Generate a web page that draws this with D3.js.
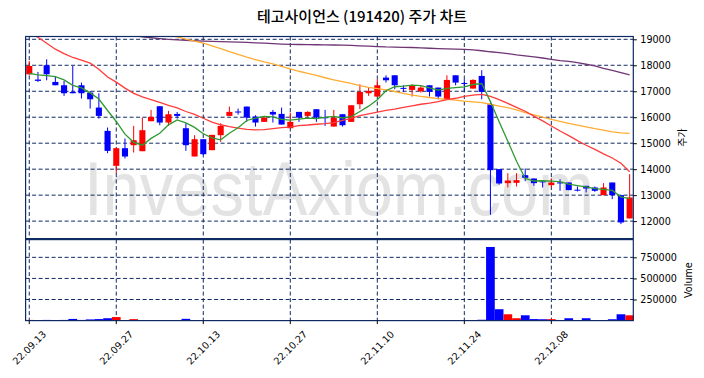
<!DOCTYPE html>
<html>
<head>
<meta charset="utf-8">
<script src="https://cdn.jsdelivr.net/npm/d3@7"></script>
<style>
body { margin: 0; background: #fff; }
</style>
</head>
<body>
<div id="wrapper"></div>
<script>
// 1. Data

const dates = ["22.09.13","22.09.14","22.09.15","22.09.16","22.09.19","22.09.20","22.09.21","22.09.22","22.09.23","22.09.26",
    "22.09.27","22.09.28","22.09.29","22.09.30","22.10.04","22.10.05","22.10.06","22.10.07","22.10.11","22.10.12",
    "22.10.13","22.10.14","22.10.17","22.10.18","22.10.19","22.10.20","22.10.21","22.10.24","22.10.25","22.10.26",
    "22.10.27","22.10.28","22.10.31","22.11.01","22.11.02","22.11.03","22.11.04","22.11.07","22.11.08","22.11.09",
    "22.11.10","22.11.11","22.11.14","22.11.15","22.11.16","22.11.17","22.11.18","22.11.21","22.11.22","22.11.23",
    "22.11.24","22.11.25","22.11.28","22.11.29","22.11.30","22.12.01","22.12.02","22.12.05","22.12.06","22.12.07",
    "22.12.08","22.12.09","22.12.12","22.12.13","22.12.14","22.12.15","22.12.16","22.12.19","22.12.20","22.12.21"]

const opens = [17654,17450,18000,17359,17231,16974,17231,16949,16372,15475,
    14128,14808,14923,14692,15846,16423,15795,16128,15577,14488,
    15154,14731,15308,16051,16220,16410,16026,15821,16205,16128,
    15577,16205,16051,16308,16000,15641,16115,15821,16500,16923,
    16795,17526,17615,17130,17051,17000,17231,17141,16692,17615,
    17320,17103,17590,16500,14000,13462,13475,13769,13641,13530,
    13385,13490,13487,13210,13359,13295,13000,13487,13000,12103]
const highs = [18167,17744,18231,17590,17397,17974,17333,17013,16923,15603,
    14830,15180,15667,15987,16282,16423,16244,16205,15769,15308,
    15154,15321,15769,16410,16333,16410,16077,16051,16282,16372,
    16180,16205,16230,16308,16282,16282,16115,16462,17269,17141,
    17462,17615,17615,17230,17269,17231,17231,17141,17615,17615,
    17460,17462,17808,16564,14000,13846,13846,14026,13641,13551,
    13641,13615,13487,13333,13359,13333,13462,13487,13000,13808]
const lows = [17620,17359,17423,17231,16820,16923,16718,16334,15949,14616,
    13846,14411,14641,14692,15846,15692,15667,15949,14705,14488,
    14540,14731,15051,16051,16100,15821,15641,15821,15795,15718,
    15577,15821,16000,15821,15667,15641,15641,15821,16308,16820,
    16795,17334,17077,16975,16795,16949,16795,16692,16692,17230,
    17013,17103,16692,12244,13398,13295,13333,13539,13359,13295,
    13295,13167,13193,13141,13103,13128,13000,12846,11885,12103]
const closes = [17974,17400,17654,17231,16923,16923,16923,16692,16051,14705,
    14808,14488,15116,15500,16013,15795,16115,16051,14923,15154,
    14577,15321,15667,16205,16190,15987,15795,15987,16103,15718,
    15821,15987,16205,15987,15980,15987,15692,16462,16974,17013,
    17231,17423,17231,17100,17205,17141,16974,16795,17436,17334,
    17300,17436,16974,13962,13449,13564,13577,13667,13462,13500,
    13487,13470,13193,13190,13257,13167,13295,13000,11949,12910]
const volumes = [8000,6000,8000,6000,8000,20000,8000,14000,18000,28000,
    42000,5000,17000,7000,7000,5000,7000,5000,21000,7000,
    5000,6000,5000,6000,5000,6000,5000,6000,5000,6000,
    7000,5000,6000,5000,5000,7000,5000,6000,7000,6000,
    6000,5000,4000,5000,6000,6000,5000,5000,7000,5000,
    5000,6000,10000,873000,135000,75000,28000,63000,18000,16000,
    17000,5000,28000,5000,28000,5000,6000,16000,75000,63000]

const ma5 = [17690,17630,17600,17560,17436,17226,17131,16938,16702,16259,
    15836,15349,15034,14923,15185,15382,15708,15895,15779,15608,
    15364,15205,15128,15385,15592,15874,15969,16033,16012,15918,
    15885,15923,15967,15944,15996,16029,15970,16022,16219,16426,
    16674,17021,17174,17200,17238,17220,17130,17043,17110,17136,
    17168,17260,17296,16601,15824,15077,14305,13644,13544,13554,
    13539,13517,13422,13368,13319,13255,13220,13182,12934,12864]
const ma20 = [19200,19080,18850,18620,18450,18300,18200,18080,17850,17550,
    17350,17120,16920,16780,16680,16570,16460,16360,16220,16110,
    15960,15810,15710,15640,15580,15530,15510,15520,15560,15600,
    15620,15680,15700,15730,15750,15790,15880,15960,16060,16130,
    16200,16260,16310,16380,16440,16500,16540,16600,16680,16730,
    16800,16850,16880,16800,16680,16530,16380,16230,16040,15860,
    15660,15470,15290,15100,14920,14760,14590,14430,14230,13900]
const ma60 = [null,null,null,null,null,null,null,null,null,null,
    null,null,null,null,null,null,19170,19090,19010,18930,
    18850,18750,18640,18530,18420,18310,18220,18130,18050,17960,
    17860,17770,17690,17610,17520,17440,17370,17300,17220,17150,
    17100,17050,16990,16920,16850,16800,16760,16720,16690,16660,
    16620,16590,16560,16500,16430,16370,16280,16180,16090,16000,
    15920,15840,15760,15700,15630,15560,15500,15440,15400,15380]
const ma120 = [null,null,null,null,null,null,null,null,null,null,
    null,null,19140,19090,19060,19030,19000,18980,18960,18945,
    18930,18920,18910,18900,18890,18880,18865,18850,18830,18815,
    18805,18800,18795,18790,18785,18780,18775,18770,18750,18735,
    18720,18705,18700,18690,18685,18670,18655,18645,18630,18620,
    18610,18590,18560,18520,18490,18450,18400,18360,18320,18280,
    18230,18180,18150,18100,18040,17980,17880,17800,17720,17630]

const priceTicks = [12000, 13000, 14000, 15000, 16000, 17000, 18000, 19000]
const volumeTicks = [250000, 500000, 750000]
const dateTickIdx = [0, 10, 20, 30, 40, 50, 60]

// 2. Dimensions

const dimensions = {
    width: 704,
    height: 378,
    left: 25.6,
    right: 633.3,
    priceTop: 36.5,
    priceBottom: 238.6,
    volTop: 239.6,
    volBottom: 320.6,
}

const navy = "#0f2a63"
const upColor = "#ff0000"
const downColor = "#0000ff"

// 3. Draw canvas

const wrapper = d3.select("#wrapper")
    .append("svg")
    .attr("width", dimensions.width)
    .attr("height", dimensions.height)
    .style("font-family", "'DejaVu Sans', sans-serif")

const x = d3.scaleLinear()
    .domain([-0.42, dates.length - 1 + 0.42])
    .range([dimensions.left, dimensions.right])
const yPrice = d3.scaleLinear()
    .domain([11327, 19108])
    .range([dimensions.priceBottom, dimensions.priceTop])
const yVol = d3.scaleLinear()
    .domain([0, d3.max(volumes) * 1.1])
    .range([dimensions.volBottom, dimensions.volTop])

const step = x(1) - x(0)

wrapper.append("defs").append("clipPath")
    .attr("id", "priceClip")
    .append("rect")
    .attr("x", dimensions.left)
    .attr("y", dimensions.priceTop)
    .attr("width", dimensions.right - dimensions.left)
    .attr("height", dimensions.priceBottom - dimensions.priceTop)

// title
wrapper.append("text")
    .attr("x", 362)
    .attr("y", 22)
    .attr("text-anchor", "middle")
    .attr("font-family", "'Noto Sans CJK KR', sans-serif")
    .attr("font-size", "15px")
    .attr("font-weight", 500)
    .attr("fill", "#000")
    .text("테고사이언스 (191420) 주가 차트")

// watermark
wrapper.append("text")
    .attr("transform", "translate(84,215) scale(1,1.14)")
    .attr("font-family", "'Liberation Sans', Arial, sans-serif")
    .attr("font-size", "67px")
    .attr("fill", "#e3e3e3")
    .text("InvestAxiom.com")

// grid
const grid = wrapper.append("g")
    .attr("stroke", navy)
    .attr("stroke-width", 1)
    .attr("stroke-dasharray", "4,2.5")

grid.selectAll(".hp")
    .data(priceTicks)
    .join("line")
    .attr("x1", dimensions.left)
    .attr("x2", dimensions.right)
    .attr("y1", d => yPrice(d))
    .attr("y2", d => yPrice(d))

grid.selectAll(".hv")
    .data(volumeTicks)
    .join("line")
    .attr("class", "hv")
    .attr("x1", dimensions.left)
    .attr("x2", dimensions.right)
    .attr("y1", d => yVol(d))
    .attr("y2", d => yVol(d))

grid.selectAll(".vp")
    .data(dateTickIdx)
    .join("line")
    .attr("class", "vp")
    .attr("x1", d => x(d))
    .attr("x2", d => x(d))
    .attr("y1", dimensions.priceTop)
    .attr("y2", dimensions.priceBottom)

grid.selectAll(".vv")
    .data(dateTickIdx)
    .join("line")
    .attr("class", "vv")
    .attr("x1", d => x(d))
    .attr("x2", d => x(d))
    .attr("y1", dimensions.volTop)
    .attr("y2", dimensions.volBottom)

// candles
const candles = wrapper.append("g")
    .selectAll("g")
    .data(dates.map((d, i) => i))
    .join("g")
    .attr("fill", i => closes[i] >= opens[i] ? upColor : downColor)
    .attr("stroke", i => closes[i] >= opens[i] ? upColor : downColor)

candles.append("line")
    .attr("x1", i => x(i))
    .attr("x2", i => x(i))
    .attr("y1", i => yPrice(highs[i]))
    .attr("y2", i => yPrice(lows[i]))
    .attr("stroke-width", 1)

candles.append("rect")
    .attr("x", i => x(i) - step * 0.35)
    .attr("width", step * 0.7)
    .attr("y", i => yPrice(Math.max(opens[i], closes[i])))
    .attr("height", i => Math.max(1, Math.abs(yPrice(opens[i]) - yPrice(closes[i]))))
    .attr("stroke", "none")

// moving averages
const line = d3.line()
    .defined(d => d != null)
    .x((d, i) => x(i))
    .y(d => yPrice(d))

const maLayer = wrapper.append("g").attr("clip-path", "url(#priceClip)")
const maSeries = [
    { values: ma120, color: "#6f3575" },
    { values: ma60, color: "#ffac33" },
    { values: ma20, color: "#ff3b3b" },
    { values: ma5, color: "#2f9a2f" },
]
maLayer.selectAll("path")
    .data(maSeries)
    .join("path")
    .attr("d", d => line(d.values))
    .attr("fill", "none")
    .attr("stroke", d => d.color)
    .attr("stroke-width", 1.3)

// volume bars
wrapper.append("g")
    .selectAll("rect")
    .data(volumes)
    .join("rect")
    .attr("x", (d, i) => x(i) - step / 2)
    .attr("width", step)
    .attr("y", d => yVol(d))
    .attr("height", d => yVol(0) - yVol(d))
    .attr("fill", (d, i) => closes[i] >= opens[i] ? upColor : downColor)

// frames
wrapper.append("rect")
    .attr("x", dimensions.left)
    .attr("y", dimensions.priceTop)
    .attr("width", dimensions.right - dimensions.left)
    .attr("height", dimensions.priceBottom - dimensions.priceTop)
    .attr("fill", "none")
    .attr("stroke", navy)
    .attr("stroke-width", 1.2)
wrapper.append("rect")
    .attr("x", dimensions.left)
    .attr("y", dimensions.volTop)
    .attr("width", dimensions.right - dimensions.left)
    .attr("height", dimensions.volBottom - dimensions.volTop)
    .attr("fill", "none")
    .attr("stroke", navy)
    .attr("stroke-width", 1.2)

// right axes
const priceAxis = d3.axisRight(yPrice).tickValues(priceTicks).tickSize(3.5).tickPadding(3.5).tickFormat(d3.format("d"))
const volAxis = d3.axisRight(yVol).tickValues(volumeTicks).tickSize(3.5).tickPadding(3.5).tickFormat(d3.format("d"))

const styleAxis = g => {
    g.select(".domain").remove()
    g.selectAll(".tick line").attr("stroke", "#000")
    g.selectAll(".tick text")
        .attr("fill", "#000")
        .attr("font-size", "9.6px")
        .attr("font-family", "'DejaVu Sans', sans-serif")
}

wrapper.append("g")
    .attr("transform", `translate(${dimensions.right},0)`)
    .call(priceAxis)
    .call(styleAxis)
wrapper.append("g")
    .attr("transform", `translate(${dimensions.right},0)`)
    .call(volAxis)
    .call(styleAxis)

// bottom ticks + rotated date labels
const xTicks = wrapper.append("g")
xTicks.selectAll("line")
    .data(dateTickIdx)
    .join("line")
    .attr("x1", d => x(d))
    .attr("x2", d => x(d))
    .attr("y1", dimensions.volBottom)
    .attr("y2", dimensions.volBottom + 3.5)
    .attr("stroke", "#000")
xTicks.selectAll("text")
    .data(dateTickIdx)
    .join("text")
    .attr("transform", d => `translate(${x(d)},${dimensions.volBottom + 27}) rotate(-45)`)
    .attr("text-anchor", "middle")
    .attr("dominant-baseline", "central")
    .attr("font-size", "9.6px")
    .attr("fill", "#000")
    .text(d => dates[d])

// axis labels
wrapper.append("text")
    .attr("transform", `translate(686,${(dimensions.priceTop + dimensions.priceBottom) / 2}) rotate(-90)`)
    .attr("text-anchor", "middle")
    .attr("font-family", "'Noto Sans CJK KR', sans-serif")
    .attr("font-size", "10px")
    .attr("fill", "#000")
    .text("주가")
wrapper.append("text")
    .attr("transform", `translate(692,${(dimensions.volTop + dimensions.volBottom) / 2}) rotate(-90)`)
    .attr("text-anchor", "middle")
    .attr("font-size", "9.6px")
    .attr("fill", "#000")
    .text("Volume")
</script>
</body>
</html>
